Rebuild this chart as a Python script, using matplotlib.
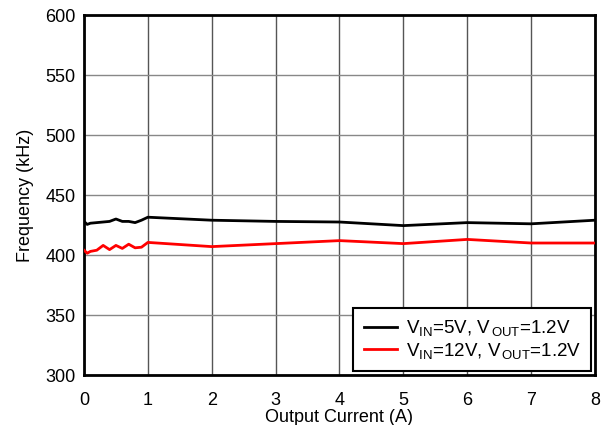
import matplotlib
matplotlib.use("Agg")
import matplotlib.pyplot as plt

# ---------------- data ----------------
current = [0, 0.05, 0.1, 0.2, 0.3, 0.4, 0.5, 0.6, 0.7, 0.8, 0.9, 1, 2, 3, 4, 5, 6, 7, 8]
freq_5v = [428, 425.5, 426.5, 427, 427.5, 428, 430, 428, 428, 427, 429, 431.5,
           429, 428, 427.5, 424.5, 427, 426, 429]
freq_12v = [404, 401.5, 403, 404, 408, 404.5, 408, 405.5, 409, 406, 406.5, 410.5,
            407, 409.5, 412, 409.5, 413, 410, 410]

labels = [r"V$_{\mathrm{IN}}$=5V, V$_{\mathrm{\,OUT}}$=1.2V",
          r"V$_{\mathrm{IN}}$=12V, V$_{\mathrm{\,OUT}}$=1.2V"]
x_ticks = list(range(0, 9))
y_ticks = list(range(300, 601, 50))

# ---------------- style ----------------
plt.rcParams['font.family'] = ['Liberation Sans', 'DejaVu Sans']
plt.rcParams['mathtext.fontset'] = 'custom'
plt.rcParams['mathtext.rm'] = 'Liberation Sans'
plt.rcParams['mathtext.it'] = 'Liberation Sans'

fig = plt.figure(figsize=(6.03, 4.25), dpi=100)
ax = fig.add_axes([0.1393, 0.1176, 0.8474, 0.8471])

ax.plot(current, freq_5v, color='black', lw=2, label=labels[0], zorder=3)
ax.plot(current, freq_12v, color='#ff0000', lw=2, label=labels[1], zorder=3)

ax.set_xlim(0, 8)
ax.set_ylim(300, 600)
ax.set_xticks(x_ticks)
ax.set_yticks(y_ticks)
ax.tick_params(length=0, labelsize=13)
ax.tick_params(axis='y', pad=6)
ax.tick_params(axis='x', pad=12)
ax.grid(True, color='#888888', lw=1)
ax.xaxis.grid(True, color='#555555', lw=1)

for s in ax.spines.values():
    s.set_linewidth(2)
    s.set_color('black')

ax.set_xlabel('Output Current (A)', fontsize=13, labelpad=0.5)
ax.set_ylabel('Frequency (kHz)', fontsize=13, labelpad=8)

leg = ax.legend(loc='lower right', fontsize=13.5, fancybox=False, framealpha=1,
                edgecolor='black', borderaxespad=0.2, handlelength=1.8,
                handletextpad=0.45, labelspacing=0.15, borderpad=0.55)
leg.get_frame().set_linewidth(1.5)

fig.savefig('out.png', dpi=100)
